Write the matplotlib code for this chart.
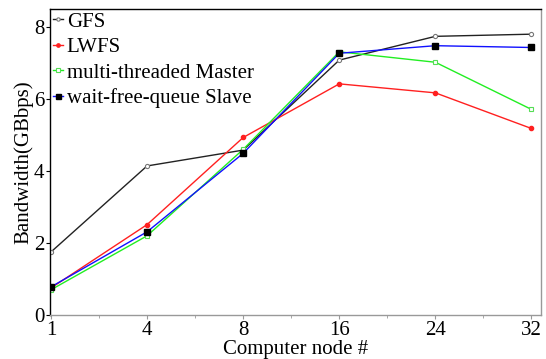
import matplotlib
matplotlib.use("Agg")
import matplotlib.pyplot as plt
from matplotlib.ticker import MultipleLocator

nodes = ["1", "4", "8", "16", "24", "32"]
gfs = [1.75, 4.14, 4.58, 7.08, 7.74, 7.80]
lwfs = [0.75, 2.51, 4.93, 6.42, 6.17, 5.18]
master = [0.70, 2.20, 4.60, 7.31, 7.02, 5.71]
slave = [0.78, 2.31, 4.49, 7.27, 7.48, 7.43]

plt.rcParams['font.family'] = ['Liberation Serif', 'DejaVu Serif']

fig = plt.figure(figsize=(5.46, 3.59), dpi=100)
ax = fig.add_axes([0.0916, 0.1226, 0.8994, 0.8524])

x = list(range(len(nodes)))
ax.plot(x, gfs, color='#222222', lw=1.0, marker='o', ms=3, mfc='white', mec='#777777', mew=0.8, label='GFS')
ax.plot(x, lwfs, color='#ff2020', lw=1.0, marker='o', ms=3, mfc='#ff2020', mec='#ff2020', label='LWFS')
ax.plot(x, master, color='#22ee22', lw=1.0, marker='s', ms=3.5, mfc='white', mec='#55dd55', mew=0.8, label='multi-threaded Master')
ax.plot(x, slave, color='#1010ff', lw=1.0, marker='s', ms=4.5, mfc='black', mec='black', label='wait-free-queue Slave')

ax.set_xlim(-0.01, 5.1)
ax.set_ylim(0, 8.5)
ax.set_xticks(x)
ax.set_xticklabels(nodes)
ax.xaxis.set_minor_locator(MultipleLocator(0.5))
ax.set_yticks([0, 2, 4, 6, 8])

for s in ['left', 'top']:
    ax.spines[s].set_color('black')
    ax.spines[s].set_linewidth(1.0)
for s in ['right', 'bottom']:
    ax.spines[s].set_color('#999999')
    ax.spines[s].set_linewidth(1.0)

ax.tick_params(axis='both', labelsize=15, pad=1)
ax.tick_params(axis='x', which='major', direction='out', length=3, color='#999999')
ax.tick_params(axis='x', which='minor', direction='out', length=2, color='#999999')
ax.tick_params(axis='y', direction='out', length=3, color='black')

ax.set_xlabel('Computer node #', fontsize=15, labelpad=0)
ax.set_ylabel('Bandwidth(GBbps)', fontsize=15, labelpad=0.5)

leg = ax.legend(loc='upper left', frameon=False, fontsize=15, handlelength=0.45,
                handletextpad=0.2, borderaxespad=0.0, labelspacing=0.28,
                borderpad=0.15, markerscale=0.8)

fig.savefig('out.png', dpi=100)
